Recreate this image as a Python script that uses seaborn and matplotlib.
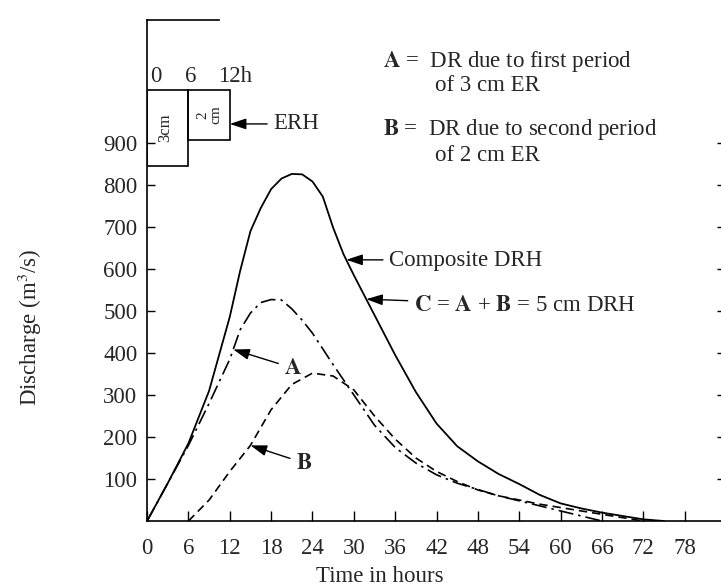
import numpy as np
import pandas as pd
import matplotlib
matplotlib.use("Agg")
import matplotlib.pyplot as plt
import seaborn as sns

# hydrograph ordinates (m3/s)
composite_t = [0, 3, 6, 9, 12, 13.5, 15, 16.5, 18, 19.5, 21, 22.5, 24, 25.5, 27, 28.5, 30,
               33, 36, 39, 42, 45, 48, 51, 54, 57, 60, 63, 66, 69, 72, 75]
composite_q = [0, 90, 185, 310, 486, 595, 690, 745, 790, 815, 826, 825, 808, 772, 698, 635, 585,
               490, 395, 307, 232, 178, 142, 112, 88, 62, 42, 30, 20, 12, 4, 0]

a_t = [0, 3, 6, 9, 12, 13.5, 15, 16.5, 18, 19.5, 21, 22.5, 24, 27, 30, 33, 36, 39, 42,
       45, 48, 51, 54, 57, 60, 63, 66]
a_q = [0, 90, 180, 280, 385, 455, 495, 520, 527, 526, 505, 478, 447, 372, 300, 228, 175, 138, 110,
       90, 75, 60, 48, 36, 24, 12, 0]

b_t = [6, 9, 12, 15, 18, 21, 24, 27, 30, 33, 36, 39, 42, 45, 48, 51, 54, 57, 60, 63, 66, 69, 72]
b_q = [0, 50, 118, 180, 265, 325, 352, 345, 312, 250, 195, 150, 118, 94, 74, 60, 50, 40, 32, 24, 16, 8, 0]

# excess rainfall hyetograph
rain_start_h = [0, 6]
rain_depth_cm = [3, 2]

x_ticks = list(range(0, 79, 6))
y_ticks = list(range(100, 1000, 100))

sns.set_theme(style="ticks")
plt.rcParams["font.family"] = ["Liberation Serif", "DejaVu Serif"]
plt.rcParams["mathtext.fontset"] = "stix"

FS = 16.5

fig = plt.figure(figsize=(7.21, 5.87), dpi=100)
ax = fig.add_axes([0.204, 0.1124, 0.801, 0.854])

comp_df = pd.DataFrame({"t": composite_t, "q": composite_q})
a_df = pd.DataFrame({"t": a_t, "q": a_q})
b_df = pd.DataFrame({"t": b_t, "q": b_q})

sns.lineplot(data=comp_df, x="t", y="q", ax=ax, color="black", lw=1.3)
sns.lineplot(data=a_df, x="t", y="q", ax=ax, color="black", lw=1.2,
             linestyle=(0, (9, 3, 1.5, 3)))
sns.lineplot(data=b_df, x="t", y="q", ax=ax, color="black", lw=1.2,
             linestyle=(0, (5, 3)))

# hyetograph hanging from the top
rain_top = 1026
cm_scale = 60
ax.bar(rain_start_h, [-d * cm_scale for d in rain_depth_cm], bottom=rain_top,
       width=6, align="edge", fill=False, edgecolor="black", lw=1.2)
ax.text(1.3, 1057, "0", ha="center", va="center", fontsize=FS)
ax.text(6.3, 1057, "6", ha="center", va="center", fontsize=FS)
ax.text(12.8, 1057, "12h", ha="center", va="center", fontsize=FS)
ax.text(2.6, rain_top - rain_depth_cm[0] * cm_scale / 2, "3cm", rotation=90,
        ha="center", va="center", fontsize=12)
ax.text(9, rain_top - rain_depth_cm[1] * cm_scale / 2, "2\ncm", rotation=90,
        ha="center", va="center", fontsize=11, linespacing=1.0)

arrow = dict(arrowstyle="-|>,head_length=0.6,head_width=0.2", color="black",
             lw=1.0, shrinkA=2, shrinkB=0)
ax.annotate("ERH", xy=(12, 945), xytext=(18.3, 945), ha="left", va="center",
            fontsize=FS, arrowprops=arrow)

# notes at the top right
ax.text(34.3, 1093, r"$\mathbf{A}$ =  DR due to first period", ha="left", va="center", fontsize=FS)
ax.text(41.8, 1036, "of 3 cm ER", ha="left", va="center", fontsize=FS)
ax.text(34.3, 931, r"$\mathbf{B}$ =  DR due to second period", ha="left", va="center", fontsize=FS)
ax.text(41.8, 869, "of 2 cm ER", ha="left", va="center", fontsize=FS)

ax.annotate("Composite DRH", xy=(28.9, float(np.interp(28.9, composite_t, composite_q))),
            xytext=(35.1, 621), ha="left", va="center", fontsize=FS, arrowprops=arrow)
ax.annotate(r"$\mathbf{C}$ = $\mathbf{A}$ + $\mathbf{B}$ = 5 cm DRH",
            xy=(31.8, float(np.interp(31.8, composite_t, composite_q))),
            xytext=(38.7, 514), ha="left", va="center", fontsize=FS, arrowprops=arrow)
ax.annotate(r"$\mathbf{A}$", xy=(12.5, float(np.interp(12.5, a_t, a_q))),
            xytext=(19.9, 364), ha="left", va="center", fontsize=FS, arrowprops=arrow)
ax.annotate(r"$\mathbf{B}$", xy=(15, float(np.interp(15, b_t, b_q))),
            xytext=(21.6, 138), ha="left", va="center", fontsize=FS, arrowprops=arrow)

ax.set_xlim(0, 83.8)
ax.set_ylim(0, 1193)
ax.set_xticks(x_ticks)
ax.set_yticks(y_ticks)
ax.tick_params(axis="both", direction="in", labelsize=FS, color="black", width=1.0)
ax.tick_params(axis="x", length=7, pad=12)
ax.tick_params(axis="y", length=6, pad=7, right=True)
ax.spines["top"].set_bounds(0, 10.5)
for s in ax.spines.values():
    s.set_color("black")
    s.set_linewidth(1.2)

ax.set_xlabel("Time in hours", fontsize=FS)
ax.set_ylabel("Discharge (m$^3$/s)", fontsize=FS)
ax.xaxis.set_label_coords(0.403, -0.09)
ax.yaxis.set_label_coords(-0.178, 0.387)

fig.savefig("out.png", dpi=100, facecolor="white")
